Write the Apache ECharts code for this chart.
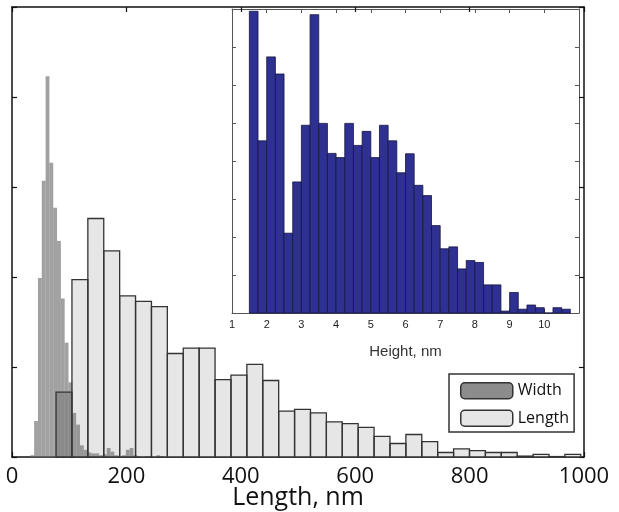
<!DOCTYPE html>
<html>
<head>
<meta charset="utf-8">
<script src="https://cdn.jsdelivr.net/npm/echarts@6/dist/echarts.min.js"></script>
<style>
    html, body { margin: 0; padding: 0; background: #fff; }
    #chart { width: 619px; height: 512px; }
</style>
</head>
<body>
<div id="chart"></div>
<script>
// main plot: length histogram (nm), heights in tick units
const lengthBinStart = 77
const lengthBinWidth = 27.8
const lengthCounts = [0.72, 1.97, 2.65, 2.29, 1.79, 1.73, 1.67, 1.15, 1.21, 1.21, 0.86, 0.91, 1.03, 0.85,
    0.51, 0.53, 0.49, 0.39, 0.37, 0.33, 0.23, 0.15, 0.25, 0.17, 0.05, 0.09, 0.07, 0.05, 0.05, 0.01, 0.03, 0.005, 0.03]

// width histogram (narrow grey bars)
const widthBinStart = 32
const widthBinWidth = 6.68
const widthCounts = [0.02, 0.40, 1.99, 3.07, 4.23, 3.27, 2.77, 2.40, 1.76, 1.27, 0.83, 0.49, 0.36, 0.13, 0.08,
    0.05, 0.04, 0.04, 0.02, 0.03, 0.10, 0.06, 0.02, 0.01, 0.02, 0.08, 0.10, 0.02, 0.01, 0, 0.01, 0.01, 0, 0.02, 0.01]

// inset: height histogram
const heightBinStart = 1.5
const heightBinWidth = 0.25
const heightCounts = [7.94, 4.53, 6.74, 6.29, 2.1, 3.45, 4.94, 7.85, 4.99, 4.2, 4.09, 4.99, 4.41, 4.78, 4.09,
    4.94, 4.53, 3.69, 4.19, 3.36, 3.09, 2.30, 1.69, 1.74, 1.16, 1.38, 1.33, 0.74, 0.74, 0.05, 0.54, 0.1, 0.21,
    0.14, 0, 0.14, 0.1]

const mainTicks = ['0', '200', '400', '600', '800', '1000']
const insetTicks = ['1', '2', '3', '4', '5', '6', '7', '8', '9', '10']

function bins(start, width, counts) {
    return counts.map((v, i) => [start + i * width, start + (i + 1) * width, v])
}

function rectItem(fill, stroke, lineWidth) {
    return function (params, api) {
        const p0 = api.coord([api.value(0), api.value(2)])
        const p1 = api.coord([api.value(1), 0])
        let f = fill
        if (typeof fill === 'function') f = fill(params.dataIndex)
        return {
            type: 'rect',
            shape: { x: p0[0], y: p0[1], width: p1[0] - p0[0], height: p1[1] - p0[1] },
            style: { fill: f, stroke: stroke, lineWidth: lineWidth }
        }
    }
}

const frameLine = { lineStyle: { color: '#111', width: 1.5 } }
const inTick = { inside: true, length: 5, lineStyle: { color: '#111', width: 1.2 } }
const insetLine = { lineStyle: { color: '#555', width: 1 } }
const insetTick = { inside: true, length: 4, lineStyle: { color: '#555', width: 1 } }

let chart = echarts.init(document.getElementById('chart'))
let option = {
    animation: false,
    backgroundColor: '#fff',
    grid: [
        { left: 12, top: 7, width: 572, height: 450, outerBoundsMode: 'none', containLabel: false },
        {
            left: 232, top: 9, width: 347, height: 304, outerBoundsMode: 'none', containLabel: false,
            show: true, backgroundColor: '#fff', borderWidth: 0
        }
    ],
    legend: {
        left: 449,
        top: 374,
        orient: 'vertical',
        itemWidth: 52,
        itemHeight: 16,
        itemGap: 10,
        padding: [8, 5, 5, 11],
        borderColor: '#333',
        borderWidth: 1.5,
        backgroundColor: '#fff',
        icon: 'roundRect',
        selectedMode: false,
        textStyle: { fontFamily: 'Open Sans', fontSize: 16, color: '#111' },
        data: [
            { name: 'Width', itemStyle: { color: '#8c8c8c', borderColor: '#333', borderWidth: 1.5 } },
            { name: 'Length', itemStyle: { color: '#e6e6e6', borderColor: '#333', borderWidth: 1.5 } }
        ]
    },
    xAxis: [
        {
            gridIndex: 0, type: 'value', min: 0, max: 1000, interval: 200, position: 'bottom',
            axisLine: { onZero: false, ...frameLine }, axisTick: inTick, splitLine: { show: false },
            axisLabel: {
                margin: 9, fontSize: 22, fontFamily: 'Open Sans', color: '#111',
                formatter: (v) => mainTicks[v / 200]
            },
            name: 'Length, nm', nameLocation: 'middle', nameGap: 28, nameMoveOverlap: false,
            nameTextStyle: { fontSize: 25, fontFamily: 'Open Sans', color: '#111' }
        },
        {
            gridIndex: 0, type: 'value', min: 0, max: 1000, interval: 200, position: 'top',
            axisLine: { onZero: false, ...frameLine }, axisTick: inTick, axisLabel: { show: false },
            splitLine: { show: false }
        },
        {
            gridIndex: 1, type: 'value', min: 1, max: 11, interval: 1, position: 'bottom',
            axisLine: { onZero: false, ...insetLine }, axisTick: insetTick, splitLine: { show: false },
            axisLabel: {
                margin: 6, fontSize: 11, fontFamily: 'Liberation Sans', color: '#222',
                formatter: (v) => insetTicks[v - 1] || ''
            },
            name: 'Height, nm', nameLocation: 'middle', nameGap: 31, nameMoveOverlap: false,
            nameTextStyle: { fontSize: 15, fontFamily: 'Liberation Sans', color: '#333' }
        },
        {
            gridIndex: 1, type: 'value', min: 1, max: 11, interval: 1, position: 'top',
            axisLine: { onZero: false, ...insetLine }, axisTick: insetTick, axisLabel: { show: false },
            splitLine: { show: false }
        }
    ],
    yAxis: [
        {
            gridIndex: 0, type: 'value', min: 0, max: 5, interval: 1, position: 'left',
            axisLine: { show: true, onZero: false, ...frameLine }, axisTick: inTick,
            axisLabel: { show: false }, splitLine: { show: false }
        },
        {
            gridIndex: 0, type: 'value', min: 0, max: 5, interval: 1, position: 'right',
            axisLine: { show: true, onZero: false, ...frameLine }, axisTick: inTick,
            axisLabel: { show: false }, splitLine: { show: false }
        },
        {
            gridIndex: 1, type: 'value', min: 0, max: 8, interval: 1, position: 'left',
            axisLine: { show: true, onZero: false, ...insetLine }, axisTick: insetTick,
            axisLabel: { show: false }, splitLine: { show: false }
        },
        {
            gridIndex: 1, type: 'value', min: 0, max: 8, interval: 1, position: 'right',
            axisLine: { show: true, onZero: false, ...insetLine }, axisTick: insetTick,
            axisLabel: { show: false }, splitLine: { show: false }
        }
    ],
    series: [
        {
            name: 'Length',
            type: 'custom',
            xAxisIndex: 0, yAxisIndex: 0,
            z: 2,
            itemStyle: { color: '#e6e6e6' },
            renderItem: rectItem((i) => (i === 0 ? '#bebebe' : '#e6e6e6'), null, 0),
            data: bins(lengthBinStart, lengthBinWidth, lengthCounts)
        },
        {
            name: 'Width',
            type: 'custom',
            xAxisIndex: 0, yAxisIndex: 0,
            z: 3,
            itemStyle: { color: '#8c8c8c' },
            renderItem: rectItem('rgba(110,110,110,0.65)', null, 0),
            data: bins(widthBinStart, widthBinWidth, widthCounts)
        },
        {
            name: 'Length edge',
            type: 'custom',
            xAxisIndex: 0, yAxisIndex: 0,
            z: 4,
            renderItem: rectItem('none', '#333', 1.3),
            data: bins(lengthBinStart, lengthBinWidth, lengthCounts)
        },
        {
            name: 'Height',
            type: 'custom',
            xAxisIndex: 2, yAxisIndex: 2,
            z: 5,
            renderItem: rectItem('#2e3192', '#15153f', 0.8),
            data: bins(heightBinStart, heightBinWidth, heightCounts)
        }
    ]
}
chart.setOption(option)
window.addEventListener('resize', () => {
    chart.resize()
})
</script>
</body>
</html>
